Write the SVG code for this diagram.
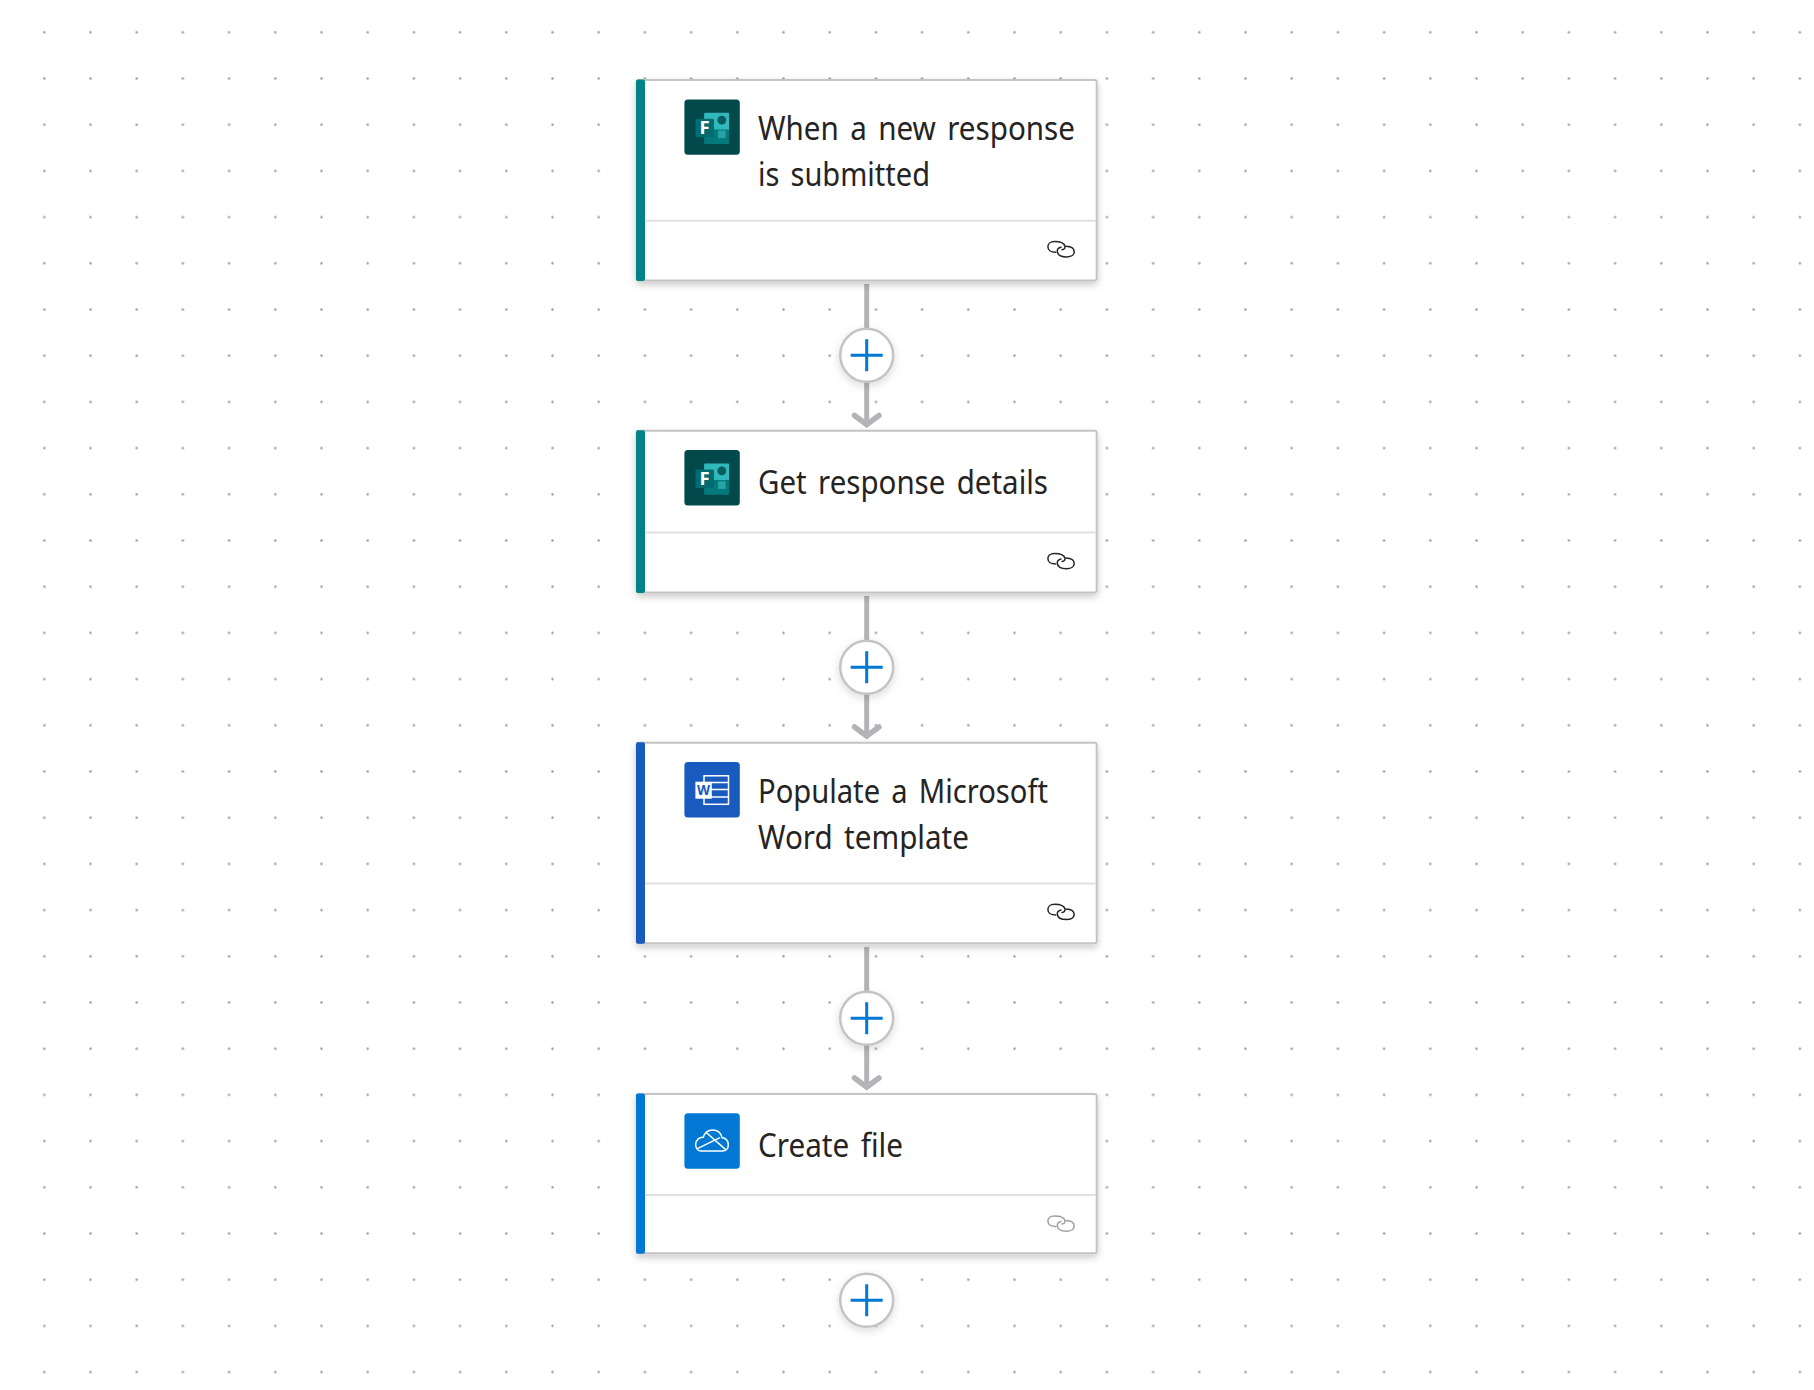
<svg xmlns="http://www.w3.org/2000/svg" width="1814" height="1390" viewBox="0 0 1814 1390">
<style>
.title{font-family:"Noto Sans","Open Sans","Liberation Sans",sans-serif;font-size:32.5px;word-spacing:4px;fill:#252423}
.card{fill:#fff;stroke:#c4c4c4;stroke-width:2;filter:url(#sh)}
.div{stroke:#e1e1e1;stroke-width:2}
.conn{stroke:#b3b3b8;stroke-width:5;fill:none}
.head{stroke:#b3b3b8;stroke-width:5.5;fill:none;stroke-linecap:round;stroke-linejoin:miter}
.pc{fill:#fff;stroke:#c4c4c4;stroke-width:2.5;filter:url(#shc)}
.pl{stroke:#0078d4;stroke-width:3;fill:none}
.lk{fill:none;stroke-width:1.5;stroke-linecap:round}
.ic{font-family:"Noto Sans","Liberation Sans",sans-serif;font-weight:700}
</style>
<defs>
<pattern id="dots" x="21.2" y="9.2" width="46.2" height="46.2" patternUnits="userSpaceOnUse"><circle cx="23.1" cy="23.1" r="1.2" fill="#9a9a9a"/></pattern>
<filter id="sh" x="-5%" y="-5%" width="110%" height="115%"><feDropShadow dx="0" dy="3.5" stdDeviation="3.5" flood-color="#000" flood-opacity=".2"/></filter>
<filter id="shc" x="-30%" y="-30%" width="160%" height="170%"><feDropShadow dx="0" dy="3" stdDeviation="4" flood-color="#000" flood-opacity=".14"/></filter>
<g id="link" class="lk">
<path d="M8.8 11.6C3.6 11.6.9 9 .9 6 .9 3 3.5.9 7.5.9 12 .9 17.3 2 18 5.8 18.3 7.6 17 8.8 15 9"/>
<path d="M19 5.6C24 5.8 27.2 8 27.2 11.2 27.2 14.6 23.5 16.2 19.5 16.2 14.5 16.2 10.5 14.5 10.3 10.5 10.2 8.5 11.5 7 14 6.5"/>
</g>
<g id="forms">
<rect width="55.4" height="55.4" rx="3.5" fill="#03484a"/>
<rect x="19.7" y="13.4" width="25" height="19" rx="1" fill="#30b9bd"/>
<rect x="19.7" y="30" width="25" height="14.6" rx="1" fill="#047a7d"/>
<circle cx="37.4" cy="20.7" r="4.4" fill="#0b5c5e"/>
<rect x="33.6" y="31.2" width="7.6" height="7.6" fill="#27a3a5"/>
<rect x="11" y="19.4" width="18.6" height="18.4" rx="1.5" fill="#036c70"/>
<text class="ic" x="20.3" y="34.6" font-size="18.5" text-anchor="middle" fill="#fff">F</text>
</g>
</defs>
<rect id="canvas" width="1814" height="1390" fill="#fff"/>
<rect id="grid" width="1814" height="1390" fill="url(#dots)"/>

<g id="connectors">
<path class="conn" d="M866.7 284V333M866.7 377V424"/>
<path class="head" d="M854.5 415.5L866.7 424.5L879 415.5"/>
<path class="conn" d="M866.7 596V645M866.7 689V736"/>
<path class="head" d="M854.5 727L866.7 736L879 727"/>
<path class="conn" d="M866.7 947V996M866.7 1040V1087"/>
<path class="head" d="M854.5 1078L866.7 1087L879 1078"/>
</g>

<g id="node-trigger">
<rect class="card" x="636.7" y="80" width="460" height="200.5" rx="2"/>
<rect x="636" y="79.5" width="9" height="201.5" rx="2" fill="#038387"/>
<line class="div" x1="645" y1="220.7" x2="1096" y2="220.7"/>
<use href="#forms" x="684.4" y="99.4"/>
<text class="title" x="758" y="139.8" textLength="317" lengthAdjust="spacingAndGlyphs">When a new response</text>
<text class="title" x="758" y="185.5" textLength="172" lengthAdjust="spacingAndGlyphs">is submitted</text>
<use href="#link" x="1047" y="240.7" stroke="#252423"/>
</g>

<g id="node-details">
<rect class="card" x="636.7" y="430.7" width="460" height="161.8" rx="2"/>
<rect x="636" y="430.2" width="9" height="162.8" rx="2" fill="#038387"/>
<line class="div" x1="645" y1="532.5" x2="1096" y2="532.5"/>
<use href="#forms" x="684.4" y="450.1"/>
<text class="title" x="758" y="494" textLength="290" lengthAdjust="spacingAndGlyphs">Get response details</text>
<use href="#link" x="1047" y="552.5" stroke="#252423"/>
</g>

<g id="node-word">
<rect class="card" x="636.7" y="742.7" width="460" height="200.5" rx="2"/>
<rect x="636" y="742.2" width="9" height="201.5" rx="2" fill="#185abd"/>
<line class="div" x1="645" y1="883.4" x2="1096" y2="883.4"/>
<rect x="684.4" y="762" width="55.4" height="55.4" rx="3.5" fill="#185abd"/>
<g fill="none" stroke="#fff" stroke-width="1.5">
<rect x="704" y="775.8" width="24.5" height="28.5"/>
<path d="M711 782.4H728.5M711 789.6H728.5M711 797H728.5"/>
</g>
<rect x="695.4" y="781.7" width="16.4" height="17" fill="#fff"/>
<text class="ic" x="703.6" y="795" font-size="13.5" text-anchor="middle" fill="#185abd">W</text>
<text class="title" x="758" y="803" textLength="290" lengthAdjust="spacingAndGlyphs">Populate a Microsoft</text>
<text class="title" x="758" y="848.5" textLength="211" lengthAdjust="spacingAndGlyphs">Word template</text>
<use href="#link" x="1047" y="903.4" stroke="#252423"/>
</g>

<g id="node-create">
<rect class="card" x="636.7" y="1094" width="460" height="159.2" rx="2"/>
<rect x="636" y="1093.5" width="9" height="160.2" rx="2" fill="#0078d4"/>
<line class="div" x1="645" y1="1195" x2="1096" y2="1195"/>
<rect x="684.4" y="1113.3" width="55.4" height="55.4" rx="3.5" fill="#0078d4"/>
<g transform="translate(670 1100) scale(.3333)" fill="none" stroke="#fff" stroke-width="4.5" stroke-linejoin="round">
<path d="M92 153C82 153 77 143 77 133 77 120 88 111 100 112 104 98 114 90 128 90 143 90 153 100 156 113 167 113 175 122 175 134 175 145 168 153 158 153Z"/>
<path d="M82 146L150 113M107 96L167 149"/>
</g>
<text class="title" x="758" y="1156.7" textLength="145" lengthAdjust="spacingAndGlyphs">Create file</text>
<use href="#link" x="1047" y="1215" stroke="#a19f9d"/>
</g>

<g id="add-1"><circle class="pc" cx="866.7" cy="355.3" r="26.5"/><path class="pl" d="M850.7 355.3H882.7M866.7 339.3V371.3"/></g>
<g id="add-2"><circle class="pc" cx="866.7" cy="667.3" r="26.5"/><path class="pl" d="M850.7 667.3H882.7M866.7 651.3V683.3"/></g>
<g id="add-3"><circle class="pc" cx="866.7" cy="1018.3" r="26.5"/><path class="pl" d="M850.7 1018.3H882.7M866.7 1002.3V1034.3"/></g>
<g id="add-4"><circle class="pc" cx="866.7" cy="1300.3" r="26.5"/><path class="pl" d="M850.7 1300.3H882.7M866.7 1284.3V1316.3"/></g>
</svg>
